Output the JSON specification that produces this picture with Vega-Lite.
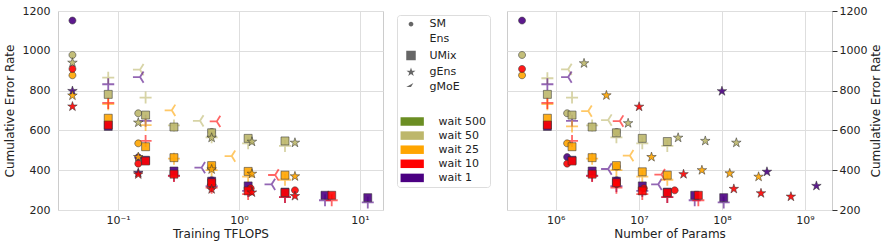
{
"$schema": "https://vega.github.io/schema/vega-lite/v6.json",
"background": "white",
"padding": {"left": 2, "top": 4, "right": 5, "bottom": 5},
"config": {
  "view": {"stroke": "#cccccc", "strokeWidth": 1},
  "font": "DejaVu Sans",
  "axis": {"labelFont": "DejaVu Sans", "labelFontSize": 11, "titleFont": "DejaVu Sans", "titleFontSize": 12, "titleFontWeight": "normal", "labelColor": "#222222", "titleColor": "#222222", "gridColor": "#dedede", "domain": false, "ticks": false, "labelOverlap": false, "labelSeparation": 0},
  "axisY": {"labelOverlap": false},
  "legend": {"labelFont": "DejaVu Sans", "labelFontSize": 11, "labelColor": "#222222"}
},
"datasets": {
  "L": [
    {"m":"SM","w":"wait 50","x":0.042,"y":979},{"m":"SM","w":"wait 50","x":0.147,"y":686},{"m":"SM","w":"wait 50","x":0.594,"y":592},
    {"m":"Ens","w":"wait 50","x":0.083,"y":865},{"m":"Ens","w":"wait 50","x":0.169,"y":765},{"m":"Ens","w":"wait 50","x":0.29,"y":625},{"m":"Ens","w":"wait 50","x":0.594,"y":565},{"m":"Ens","w":"wait 50","x":1.19,"y":535},{"m":"Ens","w":"wait 50","x":2.4,"y":522},
    {"m":"UMix","w":"wait 50","x":0.083,"y":781},{"m":"UMix","w":"wait 50","x":0.169,"y":677},{"m":"UMix","w":"wait 50","x":0.29,"y":617},{"m":"UMix","w":"wait 50","x":0.594,"y":588},{"m":"UMix","w":"wait 50","x":1.19,"y":560},{"m":"UMix","w":"wait 50","x":2.4,"y":547},
    {"m":"gEns","w":"wait 50","x":0.042,"y":940},{"m":"gEns","w":"wait 50","x":0.147,"y":639},{"m":"gEns","w":"wait 50","x":0.594,"y":563},{"m":"gEns","w":"wait 50","x":1.28,"y":543},{"m":"gEns","w":"wait 50","x":2.9,"y":538},
    {"m":"gMoE","w":"wait 50","x":0.152,"y":905},{"m":"gMoE","w":"wait 50","x":0.476,"y":648},
    {"m":"SM","w":"wait 1","x":0.042,"y":1152},{"m":"SM","w":"wait 1","x":0.147,"y":465},{"m":"SM","w":"wait 1","x":0.594,"y":350},
    {"m":"Ens","w":"wait 1","x":0.083,"y":832},{"m":"Ens","w":"wait 1","x":0.169,"y":648},{"m":"Ens","w":"wait 1","x":0.29,"y":372},{"m":"Ens","w":"wait 1","x":0.594,"y":320},{"m":"Ens","w":"wait 1","x":1.19,"y":296},{"m":"Ens","w":"wait 1","x":2.4,"y":265},{"m":"Ens","w":"wait 1","x":5.14,"y":249},{"m":"Ens","w":"wait 1","x":11.6,"y":238},
    {"m":"UMix","w":"wait 1","x":0.083,"y":620},{"m":"UMix","w":"wait 1","x":0.169,"y":450},{"m":"UMix","w":"wait 1","x":0.29,"y":396},{"m":"UMix","w":"wait 1","x":0.594,"y":345},{"m":"UMix","w":"wait 1","x":1.19,"y":321},{"m":"UMix","w":"wait 1","x":2.4,"y":290},{"m":"UMix","w":"wait 1","x":5.14,"y":274},{"m":"UMix","w":"wait 1","x":11.6,"y":262},
    {"m":"gEns","w":"wait 1","x":0.042,"y":798},{"m":"gEns","w":"wait 1","x":0.147,"y":387},{"m":"gEns","w":"wait 1","x":0.594,"y":321},
    {"m":"gMoE","w":"wait 1","x":0.152,"y":868},{"m":"gMoE","w":"wait 1","x":0.49,"y":413},{"m":"gMoE","w":"wait 1","x":1.86,"y":329},
    {"m":"SM","w":"wait 25","x":0.042,"y":877},{"m":"SM","w":"wait 25","x":0.147,"y":535},{"m":"SM","w":"wait 25","x":0.594,"y":418},
    {"m":"Ens","w":"wait 25","x":0.083,"y":732},{"m":"Ens","w":"wait 25","x":0.169,"y":627},{"m":"Ens","w":"wait 25","x":0.29,"y":458},{"m":"Ens","w":"wait 25","x":0.594,"y":400},{"m":"Ens","w":"wait 25","x":1.19,"y":368},{"m":"Ens","w":"wait 25","x":2.4,"y":352},
    {"m":"UMix","w":"wait 25","x":0.083,"y":661},{"m":"UMix","w":"wait 25","x":0.169,"y":518},{"m":"UMix","w":"wait 25","x":0.29,"y":463},{"m":"UMix","w":"wait 25","x":0.594,"y":423},{"m":"UMix","w":"wait 25","x":1.19,"y":394},{"m":"UMix","w":"wait 25","x":2.4,"y":375},
    {"m":"gEns","w":"wait 25","x":0.042,"y":775},{"m":"gEns","w":"wait 25","x":0.147,"y":466},{"m":"gEns","w":"wait 25","x":0.594,"y":404},{"m":"gEns","w":"wait 25","x":1.28,"y":382},{"m":"gEns","w":"wait 25","x":2.9,"y":369},
    {"m":"gMoE","w":"wait 25","x":0.278,"y":701},{"m":"gMoE","w":"wait 25","x":0.87,"y":471},
    {"m":"SM","w":"wait 10","x":0.042,"y":909},{"m":"SM","w":"wait 10","x":0.147,"y":433},{"m":"SM","w":"wait 10","x":0.594,"y":330},{"m":"SM","w":"wait 10","x":1.25,"y":309},{"m":"SM","w":"wait 10","x":2.9,"y":299},
    {"m":"Ens","w":"wait 10","x":0.083,"y":738},{"m":"Ens","w":"wait 10","x":0.169,"y":547},{"m":"Ens","w":"wait 10","x":0.29,"y":371},{"m":"Ens","w":"wait 10","x":0.594,"y":312},{"m":"Ens","w":"wait 10","x":1.19,"y":280},{"m":"Ens","w":"wait 10","x":2.4,"y":265},{"m":"Ens","w":"wait 10","x":5.84,"y":249},
    {"m":"UMix","w":"wait 10","x":0.083,"y":627},{"m":"UMix","w":"wait 10","x":0.169,"y":446},{"m":"UMix","w":"wait 10","x":0.29,"y":380},{"m":"UMix","w":"wait 10","x":0.594,"y":337},{"m":"UMix","w":"wait 10","x":1.19,"y":296},{"m":"UMix","w":"wait 10","x":2.4,"y":287},{"m":"UMix","w":"wait 10","x":5.84,"y":274},
    {"m":"gEns","w":"wait 10","x":0.042,"y":720},{"m":"gEns","w":"wait 10","x":0.147,"y":379},{"m":"gEns","w":"wait 10","x":0.594,"y":304},{"m":"gEns","w":"wait 10","x":1.28,"y":288},{"m":"gEns","w":"wait 10","x":2.9,"y":270},
    {"m":"gMoE","w":"wait 10","x":0.655,"y":645},{"m":"gMoE","w":"wait 10","x":1.99,"y":376}
  ],
  "R": [
    {"m":"SM","w":"wait 50","x":393000,"y":979},{"m":"SM","w":"wait 50","x":1370000,"y":686},{"m":"SM","w":"wait 50","x":5400000,"y":592},
    {"m":"Ens","w":"wait 50","x":793000,"y":862},{"m":"Ens","w":"wait 50","x":1570000,"y":765},{"m":"Ens","w":"wait 50","x":2740000,"y":625},{"m":"Ens","w":"wait 50","x":5370000,"y":565},{"m":"Ens","w":"wait 50","x":11000000,"y":535},{"m":"Ens","w":"wait 50","x":22000000,"y":522},
    {"m":"UMix","w":"wait 50","x":793000,"y":781},{"m":"UMix","w":"wait 50","x":1570000,"y":677},{"m":"UMix","w":"wait 50","x":2740000,"y":617},{"m":"UMix","w":"wait 50","x":5370000,"y":588},{"m":"UMix","w":"wait 50","x":11000000,"y":560},{"m":"UMix","w":"wait 50","x":22000000,"y":544},
    {"m":"gEns","w":"wait 50","x":2190000,"y":937},{"m":"gEns","w":"wait 50","x":7430000,"y":636},{"m":"gEns","w":"wait 50","x":29700000,"y":563},{"m":"gEns","w":"wait 50","x":63000000,"y":547},{"m":"gEns","w":"wait 50","x":149000000,"y":538},
    {"m":"gMoE","w":"wait 50","x":1410000,"y":907},{"m":"gMoE","w":"wait 50","x":4270000,"y":652},
    {"m":"SM","w":"wait 1","x":393000,"y":1152},{"m":"SM","w":"wait 1","x":1370000,"y":466},{"m":"SM","w":"wait 1","x":5400000,"y":350},
    {"m":"Ens","w":"wait 1","x":793000,"y":832},{"m":"Ens","w":"wait 1","x":1570000,"y":648},{"m":"Ens","w":"wait 1","x":2740000,"y":372},{"m":"Ens","w":"wait 1","x":5370000,"y":320},{"m":"Ens","w":"wait 1","x":11000000,"y":296},{"m":"Ens","w":"wait 1","x":22000000,"y":265},{"m":"Ens","w":"wait 1","x":47000000,"y":249},{"m":"Ens","w":"wait 1","x":105000000,"y":238},
    {"m":"UMix","w":"wait 1","x":793000,"y":620},{"m":"UMix","w":"wait 1","x":1570000,"y":450},{"m":"UMix","w":"wait 1","x":2740000,"y":396},{"m":"UMix","w":"wait 1","x":5370000,"y":345},{"m":"UMix","w":"wait 1","x":11000000,"y":321},{"m":"UMix","w":"wait 1","x":22000000,"y":290},{"m":"UMix","w":"wait 1","x":47000000,"y":274},{"m":"UMix","w":"wait 1","x":105000000,"y":262},
    {"m":"gEns","w":"wait 1","x":100000000,"y":797},{"m":"gEns","w":"wait 1","x":348000000,"y":392},{"m":"gEns","w":"wait 1","x":1370000000,"y":321},
    {"m":"gMoE","w":"wait 1","x":1410000,"y":868},{"m":"gMoE","w":"wait 1","x":4270000,"y":406},{"m":"gMoE","w":"wait 1","x":17100000,"y":329},
    {"m":"SM","w":"wait 25","x":393000,"y":877},{"m":"SM","w":"wait 25","x":1370000,"y":535},{"m":"SM","w":"wait 25","x":5400000,"y":418},
    {"m":"Ens","w":"wait 25","x":793000,"y":732},{"m":"Ens","w":"wait 25","x":1570000,"y":620},{"m":"Ens","w":"wait 25","x":2740000,"y":458},{"m":"Ens","w":"wait 25","x":5370000,"y":400},{"m":"Ens","w":"wait 25","x":11000000,"y":368},{"m":"Ens","w":"wait 25","x":22000000,"y":352},
    {"m":"UMix","w":"wait 25","x":793000,"y":661},{"m":"UMix","w":"wait 25","x":1570000,"y":518},{"m":"UMix","w":"wait 25","x":2740000,"y":463},{"m":"UMix","w":"wait 25","x":5370000,"y":423},{"m":"UMix","w":"wait 25","x":11000000,"y":392},{"m":"UMix","w":"wait 25","x":22000000,"y":375},
    {"m":"gEns","w":"wait 25","x":4070000,"y":776},{"m":"gEns","w":"wait 25","x":14200000,"y":466},{"m":"gEns","w":"wait 25","x":57400000,"y":400},{"m":"gEns","w":"wait 25","x":124000000,"y":384},{"m":"gEns","w":"wait 25","x":276000000,"y":367},
    {"m":"gMoE","w":"wait 25","x":2460000,"y":697},{"m":"gMoE","w":"wait 25","x":7800000,"y":473},
    {"m":"SM","w":"wait 10","x":393000,"y":909},{"m":"SM","w":"wait 10","x":1370000,"y":433},{"m":"SM","w":"wait 10","x":5400000,"y":330},{"m":"SM","w":"wait 10","x":11500000,"y":309},{"m":"SM","w":"wait 10","x":27000000,"y":299},
    {"m":"Ens","w":"wait 10","x":793000,"y":738},{"m":"Ens","w":"wait 10","x":1570000,"y":547},{"m":"Ens","w":"wait 10","x":2740000,"y":371},{"m":"Ens","w":"wait 10","x":5370000,"y":312},{"m":"Ens","w":"wait 10","x":11000000,"y":280},{"m":"Ens","w":"wait 10","x":22000000,"y":265},{"m":"Ens","w":"wait 10","x":52000000,"y":249},
    {"m":"UMix","w":"wait 10","x":793000,"y":627},{"m":"UMix","w":"wait 10","x":1570000,"y":446},{"m":"UMix","w":"wait 10","x":2740000,"y":380},{"m":"UMix","w":"wait 10","x":5370000,"y":337},{"m":"UMix","w":"wait 10","x":11000000,"y":296},{"m":"UMix","w":"wait 10","x":22000000,"y":287},{"m":"UMix","w":"wait 10","x":52000000,"y":274},
    {"m":"gEns","w":"wait 10","x":10070000,"y":719},{"m":"gEns","w":"wait 10","x":34500000,"y":380},{"m":"gEns","w":"wait 10","x":139000000,"y":306},{"m":"gEns","w":"wait 10","x":295000000,"y":284},{"m":"gEns","w":"wait 10","x":676000000,"y":267},
    {"m":"gMoE","w":"wait 10","x":5900000,"y":647},{"m":"gMoE","w":"wait 10","x":18700000,"y":378}
  ]
},
"spacing": 15,
"resolve": {"scale": {"x": "independent", "y": "independent"}, "legend": {"shape": "independent", "fill": "independent"}},
"hconcat": [
  {
    "width": 325, "height": 199,
    "layer": [
      {
        "data": {"name": "L"},
        "transform": [{"filter": "false"}],
        "mark": {"type": "point", "filled": false, "color": "#666666", "strokeWidth": 1.2, "opacity": 1},
        "encoding": {
          "x": {"field": "x", "type": "quantitative", "scale": {"type": "log", "domain": [0.0319, 15.5], "nice": false}, "axis": {"title": "Training TFLOPS", "values": [0.1, 1, 10], "labelExpr": "datum.value < 0.5 ? '10⁻¹' : datum.value < 5 ? '10⁰' : '10¹'", "labelPadding": 4, "titlePadding": 3}},
          "y": {"field": "y", "type": "quantitative", "scale": {"domain": [200, 1200], "nice": false, "zero": false}, "axis": {"title": "Cumulative Error Rate", "values": [200, 400, 600, 800, 1000, 1200], "tickCount": 6, "format": "d", "labelOverlap": false, "labelPadding": 8, "titlePadding": 6}},
          "fill": {"value": "#666666"},
          "stroke": {"value": "#666666"},
          "shape": {"field": "m", "type": "nominal", "scale": {"domain": ["SM", "Ens", "UMix", "gEns", "gMoE"], "range": ["M0.5,0A0.5,0.5 0 1,1 -0.5,0A0.5,0.5 0 1,1 0.5,0Z", "M-1,0H1M0,-1V1", "square", "M0,-1L0.225,-0.309L0.951,-0.309L0.363,0.118L0.588,0.809L0,0.382L-0.588,0.809L-0.363,0.118L-0.951,-0.309L-0.225,-0.309Z", "M-1,0L0,0L0.5,-0.8M0,0L0.5,0.8"]}, "legend": {"orient": "none", "legendX": 343.5, "legendY": 3.6, "title": null, "padding": 4, "symbolSize": 90, "symbolFillColor": "#666666", "symbolStrokeColor": "#666666", "symbolStrokeWidth": 1.2, "symbolOpacity": 1, "labelOffset": 13, "rowPadding": 1.7}}
        }
      },
      {
        "data": {"name": "L"},
        "transform": [{"filter": "datum.m == 'Ens' || datum.m == 'gMoE'"}],
        "mark": {"type": "point", "filled": false, "strokeWidth": 1.8, "strokeOpacity": 0.85},
        "encoding": {
          "x": {"field": "x", "type": "quantitative"},
          "y": {"field": "y", "type": "quantitative"},
          "shape": {"field": "m", "type": "nominal", "legend": null},
          "stroke": {"field": "w", "type": "nominal", "scale": {"domain": ["wait 500", "wait 50", "wait 25", "wait 10", "wait 1"], "range": ["#6b8e23", "#bdb76b", "#ffa500", "#ff0000", "#4b0082"]}, "legend": null},
          "size": {"condition": [{"test": "datum.m == 'Ens'", "value": 144}], "value": 200}
        }
      },
      {
        "data": {"name": "L"},
        "transform": [{"filter": "datum.m != 'Ens' && datum.m != 'gMoE'"}],
        "mark": {"type": "point", "filled": true, "stroke": "#333333", "strokeWidth": 0.6, "fillOpacity": 0.9, "strokeOpacity": 0.9},
        "encoding": {
          "x": {"field": "x", "type": "quantitative"},
          "y": {"field": "y", "type": "quantitative"},
          "shape": {"field": "m", "type": "nominal", "legend": null},
          "fill": {"field": "w", "type": "nominal", "scale": {"domain": ["wait 500", "wait 50", "wait 25", "wait 10", "wait 1"], "range": ["#6b8e23", "#bdb76b", "#ffa500", "#ff0000", "#4b0082"]}, "legend": {"orient": "none", "legendX": 339, "legendY": 4, "title": " ", "titleOrient": "top", "titleFontSize": 1, "titlePadding": 96, "strokeColor": "#dddddd", "cornerRadius": 3, "padding": 4, "symbolType": "M-2.33,-0.85H2.33V0.85H-2.33Z", "symbolSize": 100, "symbolOffset": 5.7, "symbolStrokeWidth": 0, "symbolOpacity": 1, "labelOffset": 20.7, "rowPadding": 2.1}},
          "size": {"condition": [{"test": "datum.m == 'SM'", "value": 196}, {"test": "datum.m == 'UMix'", "value": 64}], "value": 100}
        }
      }
    ]
  },
  {
    "width": 325, "height": 199,
    "layer": [
      {
        "data": {"name": "R"},
        "transform": [{"filter": "datum.m == 'Ens' || datum.m == 'gMoE'"}],
        "mark": {"type": "point", "filled": false, "strokeWidth": 1.8, "strokeOpacity": 0.85},
        "encoding": {
          "x": {"field": "x", "type": "quantitative", "scale": {"type": "log", "domain": [259000, 2110000000], "nice": false}, "axis": {"title": "Number of Params", "values": [1000000, 10000000, 100000000, 1000000000], "labelExpr": "datum.value < 5e6 ? '10⁶' : datum.value < 5e7 ? '10⁷' : datum.value < 5e8 ? '10⁸' : '10⁹'", "labelPadding": 4, "titlePadding": 3}},
          "y": {"field": "y", "type": "quantitative", "scale": {"domain": [200, 1200], "nice": false, "zero": false}, "axis": {"orient": "right", "title": "Cumulative Error Rate", "titleAngle": 270, "titleBaseline": "top", "values": [200, 400, 600, 800, 1000, 1200], "tickCount": 6, "format": "d", "labelOverlap": false, "ticks": true, "tickSize": 5, "tickColor": "#333333", "labelPadding": 2, "titlePadding": 4}},
          "shape": {"field": "m", "type": "nominal", "scale": {"domain": ["SM", "Ens", "UMix", "gEns", "gMoE"], "range": ["M0.5,0A0.5,0.5 0 1,1 -0.5,0A0.5,0.5 0 1,1 0.5,0Z", "M-1,0H1M0,-1V1", "square", "M0,-1L0.225,-0.309L0.951,-0.309L0.363,0.118L0.588,0.809L0,0.382L-0.588,0.809L-0.363,0.118L-0.951,-0.309L-0.225,-0.309Z", "M-1,0L0,0L0.5,-0.8M0,0L0.5,0.8"]}, "legend": null},
          "stroke": {"field": "w", "type": "nominal", "scale": {"domain": ["wait 500", "wait 50", "wait 25", "wait 10", "wait 1"], "range": ["#6b8e23", "#bdb76b", "#ffa500", "#ff0000", "#4b0082"]}, "legend": null},
          "size": {"condition": [{"test": "datum.m == 'Ens'", "value": 144}], "value": 200}
        }
      },
      {
        "data": {"name": "R"},
        "transform": [{"filter": "datum.m != 'Ens' && datum.m != 'gMoE'"}],
        "mark": {"type": "point", "filled": true, "stroke": "#333333", "strokeWidth": 0.6, "fillOpacity": 0.9, "strokeOpacity": 0.9},
        "encoding": {
          "x": {"field": "x", "type": "quantitative"},
          "y": {"field": "y", "type": "quantitative"},
          "shape": {"field": "m", "type": "nominal", "legend": null},
          "fill": {"field": "w", "type": "nominal", "scale": {"domain": ["wait 500", "wait 50", "wait 25", "wait 10", "wait 1"], "range": ["#6b8e23", "#bdb76b", "#ffa500", "#ff0000", "#4b0082"]}, "legend": null},
          "size": {"condition": [{"test": "datum.m == 'SM'", "value": 196}, {"test": "datum.m == 'UMix'", "value": 64}], "value": 100}
        }
      }
    ]
  }
]
}
